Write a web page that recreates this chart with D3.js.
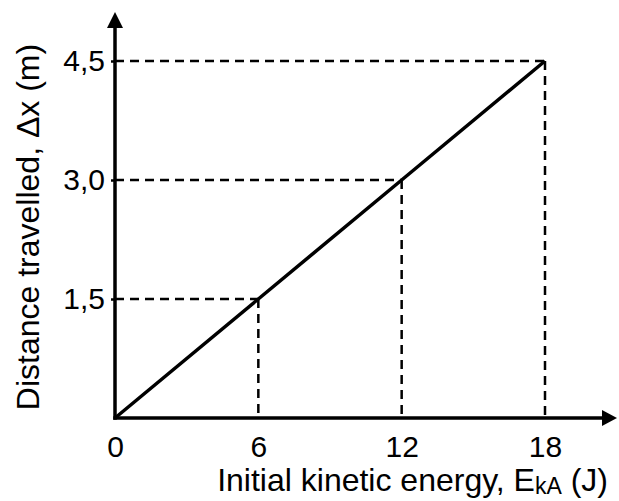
<!DOCTYPE html>
<html>
<head>
<meta charset="utf-8">
<script src="https://cdn.jsdelivr.net/npm/d3@7"></script>
<style>
  body { margin: 0; background: #fff; }
  text { font-family: "Liberation Sans", Arial, sans-serif; fill: #000; }
</style>
</head>
<body>
<div id="container"></div>
<script>
/* CONSTANTS AND GLOBALS */
const width = 619,
  height = 501;

// data
const energy = [0, 6, 12, 18];          // J
const distance = [0, 1.5, 3.0, 4.5];    // m
const xTicks = [0, 6, 12, 18];
const yTicks = [1.5, 3.0, 4.5];

const points = energy.map((e, i) => ({ e: e, d: distance[i] }));

// SCALES
const xScale = d3.scaleLinear().domain([0, 18]).range([115, 545]);
const yScale = d3.scaleLinear().domain([0, 4.5]).range([418, 61]);

const svg = d3.select("#container")
  .append("svg")
  .attr("width", width)
  .attr("height", height);

// dashed guide lines from each point to both axes
const guides = points.filter(p => p.e > 0);
svg.selectAll(".hguide")
  .data(guides)
  .join("line")
  .attr("class", "hguide")
  .attr("x1", xScale(0)).attr("x2", d => xScale(d.e))
  .attr("y1", d => yScale(d.d)).attr("y2", d => yScale(d.d))
  .attr("stroke", "#000").attr("stroke-width", 2.5)
  .attr("stroke-dasharray", "9,6");

svg.selectAll(".vguide")
  .data(guides)
  .join("line")
  .attr("class", "vguide")
  .attr("x1", d => xScale(d.e)).attr("x2", d => xScale(d.e))
  .attr("y1", d => yScale(d.d)).attr("y2", yScale(0))
  .attr("stroke", "#000").attr("stroke-width", 2.5)
  .attr("stroke-dasharray", "9,6");

// DATA LINE
const lineGen = d3.line()
  .x(d => xScale(d.e))
  .y(d => yScale(d.d));

svg.append("path")
  .datum(points)
  .attr("d", lineGen)
  .attr("fill", "none")
  .attr("stroke", "#000")
  .attr("stroke-width", 3.5);

// AXES (ticks + labels via d3, domain drawn by hand with arrows)
const xAxis = d3.axisBottom(xScale)
  .tickValues(xTicks)
  .tickSize(0)
  .tickPadding(18)
  .tickFormat(d3.format("d"));

const gx = svg.append("g")
  .attr("transform", `translate(0,${yScale(0)})`)
  .call(xAxis);
gx.select(".domain").remove();
gx.selectAll("text")
  .style("font-family", "'Liberation Sans', Arial, sans-serif")
  .style("font-size", "30px")
  .attr("fill", "#000");

const yAxis = d3.axisLeft(yScale)
  .tickValues(yTicks)
  .tickSize(4)
  .tickPadding(6)
  .tickFormat(d => d3.format(".1f")(d).replace(".", ","));

const gy = svg.append("g")
  .attr("transform", `translate(${xScale(0)},0)`)
  .call(yAxis);
gy.select(".domain").remove();
gy.selectAll("line").attr("stroke", "#000").attr("stroke-width", 2.5);
gy.selectAll("text")
  .style("font-family", "'Liberation Sans', Arial, sans-serif")
  .style("font-size", "30px")
  .attr("fill", "#000");

// axis lines with arrowheads
const x0 = xScale(0), y0 = yScale(0);
svg.append("line")
  .attr("x1", x0 - 1.75).attr("x2", 605)
  .attr("y1", y0).attr("y2", y0)
  .attr("stroke", "#000").attr("stroke-width", 3.5);
svg.append("line")
  .attr("x1", x0).attr("x2", x0)
  .attr("y1", y0 + 1.75).attr("y2", 26)
  .attr("stroke", "#000").attr("stroke-width", 3.5);

svg.append("path")
  .attr("d", `M617,${y0} L602,${y0 - 8} L602,${y0 + 8} Z`)
  .attr("fill", "#000");
svg.append("path")
  .attr("d", `M${x0},12 L${x0 - 8},28 L${x0 + 8},28 Z`)
  .attr("fill", "#000");

// AXIS TITLES
const xTitle = svg.append("text")
  .attr("x", 608)
  .attr("y", 491)
  .attr("text-anchor", "end")
  .style("font-size", "32px");
xTitle.append("tspan").text("Initial kinetic energy, E");
xTitle.append("tspan").attr("dy", 3).style("font-size", "23px").text("kA");
xTitle.append("tspan").attr("dy", -3).text(" (J)");

svg.append("text")
  .attr("transform", "translate(39,227) rotate(-90)")
  .attr("text-anchor", "middle")
  .style("font-size", "32px")
  .text("Distance travelled, \u0394x (m)");
</script>
</body>
</html>
